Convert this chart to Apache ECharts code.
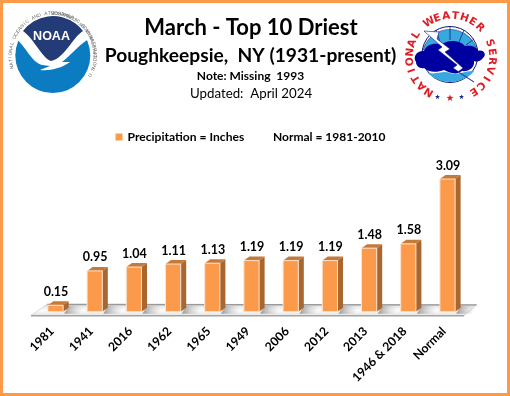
<!DOCTYPE html>
<html><head><meta charset="utf-8">
<style>html,body{margin:0;padding:0;background:#fff}#c{width:510px;height:396px}</style>
<script src="https://cdn.jsdelivr.net/npm/echarts@6/dist/echarts.min.js"></script>
</head><body><div id="c"></div>
<script>
const categories = ['1981','1941','2016','1962','1965','1949','2006','2012','2013','1946 & 2018','Normal'];
const precipitation = [0.15,0.95,1.04,1.11,1.13,1.19,1.19,1.19,1.48,1.58,3.09];
const seriesName = 'Precipitation = Inches';
const normalNote = 'Normal = 1981-2010';
const titleLines = ['March - Top 10 Driest','Poughkeepsie,  NY (1931-present)','Note: Missing  1993','Updated:  April 2024'];

const FONT = 'Lato, "Open Sans", sans-serif';
const ORANGE = '#FB9A4B', TOP = '#C47A3A', SIDE = '#A9672F', EDGE = '#FCE3CF', FRAME = '#FC9A4A';
const DX = 5.5, DY = 4, BAR_RATIO = 0.388;

function renderFloor(params, api) {
  const cs = params.coordSys;
  const y0 = cs.y + cs.height, x0 = cs.x, x1 = cs.x + cs.width;
  return {type:'group', silent:true, children:[
    {type:'polygon', shape:{points:[[x0-5,y0+3.8],[x1-3,y0+3.8],[x1+9.5,y0-6.8],[x0+11.5,y0-7.4]]},
     style:{fill:{type:'linear',x:0,y:0,x2:0,y2:1,colorStops:[{offset:0,color:'#b4b4b4'},{offset:0.22,color:'#ececec'},{offset:0.55,color:'#fbfbfb'},{offset:1,color:'#e4e4e4'}]},stroke:'#c4c4c4',lineWidth:0.6}},
    {type:'line', shape:{x1:x0-5,y1:y0+4,x2:x1-3,y2:y0+4}, style:{stroke:'#a3a3a3',lineWidth:1.6}},
    {type:'line', shape:{x1:x0+11.5,y1:y0-7.4,x2:x1+9.5,y2:y0-6.8}, style:{stroke:'#999',lineWidth:1.2}}
  ]};
}
function renderBar(params, api) {
  const p = api.coord([api.value(0), api.value(1)]);
  const b = api.coord([api.value(0), 0]);
  const w = api.size([1,0])[0] * BAR_RATIO;
  const l = p[0]-w/2, r = p[0]+w/2, t = p[1], y = b[1];
  return {type:'group', children:[
    {type:'polygon', shape:{points:[[r+DX,y-DY-2],[r+DX+15,y-DY-2],[r+17,y+2],[r+1,y+2]]},
     style:{fill:{type:'linear',x:0,y:0,x2:1,y2:0,colorStops:[{offset:0,color:'rgba(135,135,135,0.85)'},{offset:1,color:'rgba(200,200,200,0)'}]}}},
    {type:'polygon', shape:{points:[[r,t],[r+DX,t-DY],[r+DX,y-DY],[r,y]]}, style:{fill:SIDE}},
    {type:'polygon', shape:{points:[[l,t],[l+DX,t-DY],[r+DX,t-DY],[r,t]]}, style:{fill:TOP}},
    {type:'rect', shape:{x:l,y:t,width:w,height:y-t}, style:{fill:ORANGE,stroke:EDGE,lineWidth:1}},
    {type:'text', x:p[0]+0.5, y:t-DY-9.5, style:{text:api.value(1).toFixed(2),fill:'#000',font:'bold 12.5px '+FONT,align:'center',verticalAlign:'middle'}}
  ]};
}

function ringText(str, cx, cy, rad, startDeg, stepDeg, dir, style) {
  const out = [];
  [...str].forEach((ch,i) => {
    if (ch === ' ') return;
    const deg = startDeg + i*stepDeg*dir, a = deg*Math.PI/180;
    out.push({type:'text', x:cx+rad*Math.sin(a), y:cy-rad*Math.cos(a),
      rotation: dir>0 ? -a : -(a-Math.PI),
      style:Object.assign({text:ch,align:'center',verticalAlign:'middle'},style)});
  });
  return out;
}
function star(cx,cy,r,fill){
  const pts=[];for(let i=0;i<10;i++){const a=i*Math.PI/5,q=i%2?r*0.42:r;pts.push([cx+q*Math.sin(a),cy-q*Math.cos(a)]);}
  return {type:'polygon',shape:{points:pts},style:{fill}};
}
const noaaLogo = [
  {type:'circle',shape:{cx:52.8,cy:55.5,r:37.5},style:{fill:'#0B7CC2'}},
  {type:'path',shape:{pathData:'M15 38 C26 46 31 62 42 65 L50 66 L40 70 C50 71 62 68 70 62 L62 62 C72 54 80 44 90 38 L84 26 L22 26 Z'},style:{fill:'#fff'}},
  {type:'path',shape:{pathData:'M23 31 A37.5 37.5 0 0 1 83 31 C72 38 65 58 51 61 C42 58 35 40 23 31 Z'},style:{fill:'#233B77'}},
  {type:'text',x:51.5,y:37,style:{text:'NOAA',fill:'#fff',font:'bold 12.5px "Liberation Sans"',align:'center',verticalAlign:'middle'}},
  ...ringText('NATIONAL OCEANIC AND ATMOSPHERIC ADMINISTRATION',52.8,55.5,42.3,-106,4.6,1,{fill:'#666',font:'4.7px "Liberation Sans"'}),
  ...ringText('U.S. DEPARTMENT OF COMMERCE',52.8,55.5,42.5,118,4.53,-1,{fill:'#666',font:'4.7px "Liberation Sans"'})
];
const nwsLogo = [
  {type:'circle',shape:{cx:450,cy:54.5,r:28},style:{fill:'#fff',stroke:'#10107a',lineWidth:1}},
  {type:'path',shape:{pathData:'M423 50 A28 28 0 0 1 477 50 Z'},style:{fill:'#38A9DE',stroke:'#10107a',lineWidth:0.5}},
  {type:'line',shape:{x1:450,y1:27,x2:450,y2:40},style:{stroke:'#10107a',lineWidth:0.7}},
  {type:'line',shape:{x1:436,y1:30,x2:440,y2:42},style:{stroke:'#10107a',lineWidth:0.7}},
  {type:'line',shape:{x1:464,y1:30,x2:459,y2:42},style:{stroke:'#10107a',lineWidth:0.7}},
  {type:'line',shape:{x1:474,y1:39,x2:466,y2:45},style:{stroke:'#10107a',lineWidth:0.7}},
  {type:'path',shape:{pathData:'M427 72 C435 76 442 70 450 73 C458 76 465 70 474 71 C470 77 460 82 450 82 C440 82 432 78 427 72 Z'},style:{fill:'#38A9DE'}},
  {type:'path',shape:{pathData:'M416 62 C412 56 418 50 424 51 C426 44 436 42 441 45 C447 39 460 40 465 46 C472 45 477 47 478 51 C484 49 487 55 483 58 C480 62 476 62 474 61 C475 68 468 72 462 71 C456 76 448 72 444 70 C436 73 428 72 424 68 C420 69 416 66 416 62 Z'},style:{fill:'#0000A0'}},
  {type:'path',shape:{pathData:'M424 31 L439 32 L437 39 L450 49 L445 52 L463 68 L458 72 L474 82 L453 68 L457 65 L438 50 L442 47 Z'},style:{fill:'#fff',stroke:'#10107a',lineWidth:0.6}},
  ...ringText('NATIONAL WEATHER SERVICE',451,57,41,-147.5,12.8,1,{fill:'#E01B24',font:'bold 10.5px "DejaVu Sans"'}),
  star(437.5,97,2.6,'#1a2a8a'),star(450,98,3.6,'#E01B24'),star(461.5,97,2.6,'#1a2a8a')
];
const frame = {type:'rect',shape:{x:1.5,y:1.5,width:507,height:393},style:{fill:'none',stroke:FRAME,lineWidth:3},z:10};

const chart = echarts.init(document.getElementById('c'),null,{renderer:'canvas'});
chart.setOption({
  backgroundColor:'#fff', animation:false,
  title:[
    {text:titleLines[0],left:251,top:17,padding:0,textAlign:'center',textStyle:{fontFamily:FONT,fontWeight:'bold',fontSize:22,color:'#000'}},
    {text:titleLines[1],left:250.5,top:46,padding:0,textAlign:'center',textStyle:{fontFamily:FONT,fontWeight:'bold',fontSize:19.2,color:'#000'}},
    {text:titleLines[2],left:250.5,top:70,padding:0,textAlign:'center',textStyle:{fontFamily:FONT,fontWeight:'bold',fontSize:12,color:'#000'}},
    {text:titleLines[3],left:251,top:87,padding:0,textAlign:'center',textStyle:{fontFamily:FONT,fontWeight:'normal',fontSize:13.3,color:'#000'}},
    {text:normalNote,left:273,top:131,padding:0,textStyle:{fontFamily:FONT,fontWeight:'bold',fontSize:12,color:'#000'}}
  ],
  legend:{data:[seriesName],left:115.5,top:131,padding:0,itemWidth:7,itemHeight:7,itemGap:3.5,icon:'rect',textStyle:{fontFamily:FONT,fontWeight:'bold',fontSize:12.1,color:'#000'}},
  grid:{left:35.9,right:42.9,top:161.4,bottom:84.3},
  xAxis:{type:'category',data:categories,axisLine:{show:false},axisTick:{show:false},
    axisLabel:{interval:0,rotate:45,margin:14,padding:[0,5,0,0],fontFamily:FONT,fontWeight:'bold',fontSize:12.2,color:'#000'}},
  yAxis:{type:'value',min:0,max:3.5,show:false},
  series:[
    {type:'custom',name:'logos',silent:true,data:[[categories[0],0]],encode:{x:0,y:1},z:5,
     renderItem:()=>({type:'group',children:[...noaaLogo,...nwsLogo]})},
    {type:'custom',name:'floor',silent:true,data:[[categories[0],0]],renderItem:renderFloor,encode:{x:0,y:1},z:1},
    {type:'custom',name:seriesName,data:precipitation.map((v,i)=>[categories[i],v]),renderItem:renderBar,encode:{x:0,y:1},itemStyle:{color:ORANGE},z:2}
  ],
  graphic:[frame]
});
</script></body></html>
